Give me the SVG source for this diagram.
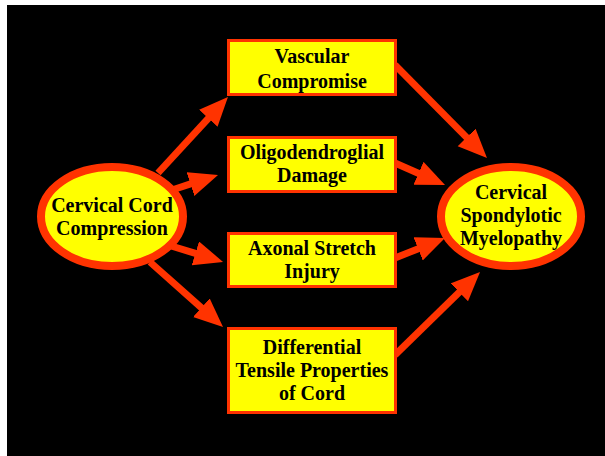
<svg xmlns="http://www.w3.org/2000/svg" width="605" height="456" viewBox="0 0 605 456">
<defs>
<style>
.box{fill:#FFFF00;stroke:#FF3300;stroke-width:3}
.ell{fill:#FFFF00;stroke:#FF3300;stroke-width:8}
.t{font-family:"Liberation Serif","Times New Roman",serif;font-weight:bold;font-size:20px;fill:#000;text-anchor:middle}
.c{stroke:#FF3300;stroke-width:7;fill:none;marker-end:url(#ah)}
</style>
<marker id="ah" markerUnits="userSpaceOnUse" markerWidth="31" markerHeight="27" refX="1" refY="12.5" orient="auto">
<path d="M0,0 L29,12.5 L0,25 Z" fill="#FF3300"/>
</marker>
</defs>
<rect x="0" y="0" width="605" height="456" fill="#fff"/>
<rect x="7" y="5" width="598" height="451" fill="#000"/>
<g id="connectors">
<line class="c" x1="158" y1="173" x2="209" y2="117.6"/>
<line class="c" x1="172" y1="190" x2="191.4" y2="183.7"/>
<line class="c" x1="168" y1="245" x2="196.3" y2="253.7"/>
<line class="c" x1="150" y1="262" x2="202.1" y2="308.4"/>
<line class="c" x1="395" y1="65" x2="467.3" y2="138.1"/>
<line class="c" x1="395" y1="163" x2="419.4" y2="173.7"/>
<line class="c" x1="395" y1="258" x2="419" y2="248.4"/>
<line class="c" x1="395" y1="355" x2="460" y2="291.6"/>
</g>
<g id="compression">
<ellipse class="ell" cx="112" cy="216.5" rx="71" ry="49.5"/>
<text class="t" x="112" y="212">Cervical Cord</text>
<text class="t" x="112" y="235">Compression</text>
</g>
<g id="vascular">
<rect class="box" x="228.5" y="40.5" width="167" height="54"/>
<text class="t" x="312" y="63">Vascular</text>
<text class="t" x="312" y="88">Compromise</text>
</g>
<g id="oligo">
<rect class="box" x="228.5" y="137.5" width="167" height="54"/>
<text class="t" x="312" y="159">Oligodendroglial</text>
<text class="t" x="312" y="182">Damage</text>
</g>
<g id="axonal">
<rect class="box" x="228.5" y="233.5" width="167" height="53"/>
<text class="t" x="312" y="255">Axonal Stretch</text>
<text class="t" x="312" y="278">Injury</text>
</g>
<g id="differential">
<rect class="box" x="228.5" y="328.5" width="167" height="84"/>
<text class="t" x="312" y="354">Differential</text>
<text class="t" x="312" y="377">Tensile Properties</text>
<text class="t" x="312" y="400">of Cord</text>
</g>
<g id="csm">
<ellipse class="ell" cx="511" cy="216.5" rx="70" ry="49.5"/>
<text class="t" x="511" y="199">Cervical</text>
<text class="t" x="511" y="222">Spondylotic</text>
<text class="t" x="511" y="245">Myelopathy</text>
</g>
</svg>
